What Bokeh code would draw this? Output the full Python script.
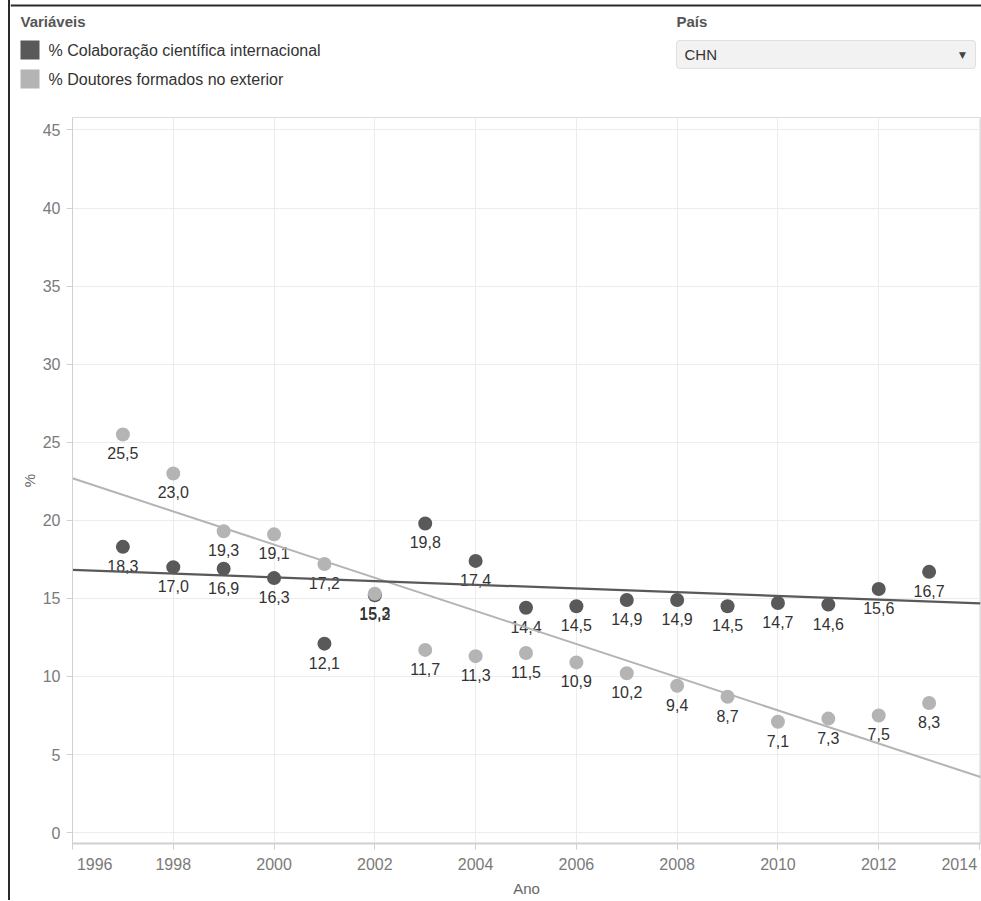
import numpy as np
from bokeh.plotting import figure
from bokeh.layouts import column
from bokeh.models import ColumnDataSource, BoxAnnotation, FixedTicker, Range1d
from bokeh.embed import file_html
from bokeh.resources import INLINE
from bokeh.core.properties import value

# ---------------- data ----------------
years = [1997, 1998, 1999, 2000, 2001, 2002, 2003, 2004, 2005,
         2006, 2007, 2008, 2009, 2010, 2011, 2012, 2013]
colab = [18.3, 17.0, 16.9, 16.3, 12.1, 15.2, 19.8, 17.4, 14.4,
         14.5, 14.9, 14.9, 14.5, 14.7, 14.6, 15.6, 16.7]
doutores = [25.5, 23.0, 19.3, 19.1, 17.2, 15.3, 11.7, 11.3, 11.5,
            10.9, 10.2, 9.4, 8.7, 7.1, 7.3, 7.5, 8.3]
x_ticks = [1996, 1998, 2000, 2002, 2004, 2006, 2008, 2010, 2012, 2014]
y_ticks = [0, 5, 10, 15, 20, 25, 30, 35, 40, 45]
series_names = ["% Colaboração científica internacional",
                "% Doutores formados no exterior"]
legend_title = "Variáveis"
filter_title = "País"
filter_value = "CHN"
x_label = "Ano"
y_label = "%"

FONT = "Liberation Sans"
DARK = "#595959"
LIGHT = "#b4b4b4"
LABEL_C = "#333333"
NB = "\u00a0"

OFF = 10          # page x of the figures' left edge
W = 971
HEAD_H = 112
MAIN_H = 788

# ---------------- header (legend + filter) ----------------
hdr = figure(width=W, height=HEAD_H, output_backend="svg", toolbar_location=None,
             x_range=Range1d(OFF, OFF + W), y_range=Range1d(HEAD_H, 0),
             min_border=0, x_axis_type=None, y_axis_type=None)
hdr.frame_align = False
hdr.outline_line_color = None
hdr.grid.visible = False
hdr.background_fill_color = "white"
hdr.border_fill_color = "white"

# scanned-page top border
hdr.quad(left=[OFF], right=[OFF + W], top=[4], bottom=[6], fill_color="#2a2a2a", line_color=None)

hdr.text([20], [21], text=[legend_title], text_baseline="middle", text_font=value(FONT),
         text_font_size="15px", text_font_style="bold", text_color="#555555")
sw_top = [40, 69]
hdr.quad(left=[20, 20], right=[39, 39], top=sw_top, bottom=[t + 19 for t in sw_top],
         fill_color=[DARK, LIGHT], line_color=None)
hdr.text([48, 48], [t + 9.5 for t in sw_top], text=series_names, text_baseline="middle",
         text_font=value(FONT), text_font_size="16px", text_color="#333333")

hdr.text([676], [21], text=[filter_title], text_baseline="middle", text_font=value(FONT),
         text_font_size="15px", text_font_style="bold", text_color="#555555")
hdr.add_layout(BoxAnnotation(left=676, right=975, top=40, bottom=68, level="underlay",
                             fill_color="#f2f2f2", fill_alpha=1, line_color="#a8a8a8",
                             line_width=1, border_radius=3))
hdr.text([684], [54], text=[filter_value], text_baseline="middle", text_font=value(FONT),
         text_font_size="15px", text_color="#333333")
hdr.text([962], [54], text=["▼"], text_align="center", text_baseline="middle",
         text_font=value("DejaVu Sans"), text_font_size="9px", text_color="#444444")

# ---------------- main chart ----------------
x0, x1 = 1996, 2014.02
p = figure(width=W, height=MAIN_H, output_backend="svg", toolbar_location=None,
           x_range=Range1d(x0, x1), y_range=Range1d(-0.7, 45.8),
           min_border_left=72 - OFF, min_border_right=1, min_border_top=117 - HEAD_H,
           min_border_bottom=MAIN_H - (843 - HEAD_H))
p.frame_align = False
p.background_fill_color = "white"
p.border_fill_color = "white"
p.outline_line_color = "#dcdcdc"
p.outline_line_width = 1

p.xaxis.ticker = FixedTicker(ticks=x_ticks)
p.yaxis.ticker = FixedTicker(ticks=y_ticks)
p.xaxis.major_label_overrides = {x_ticks[0]: NB * 10 + str(x_ticks[0]),
                                 x_ticks[-1]: str(x_ticks[-1]) + NB}
for ax in (p.xaxis[0], p.yaxis[0]):
    ax.axis_line_color = "#d0d0d0"
    ax.major_tick_line_color = "#d0d0d0"
    ax.major_tick_out = 6
    ax.major_tick_in = 0
    ax.minor_tick_line_color = None
    ax.major_label_text_font = FONT
    ax.major_label_text_font_size = "16px"
    ax.major_label_text_color = "#7a7a7a"
    ax.major_label_standoff = 6
    ax.axis_label_text_font = FONT
    ax.axis_label_text_font_size = "15px"
    ax.axis_label_text_font_style = "normal"
    ax.axis_label_text_color = "#666666"
p.xaxis.axis_line_width = 2
p.xaxis.axis_label = x_label
p.xaxis.axis_label_standoff = 4
p.yaxis.axis_label = y_label
p.yaxis.axis_label_standoff = 2
p.xgrid.grid_line_color = "#ececec"
p.ygrid.grid_line_color = "#ececec"

fmt = lambda v: f"{v:.1f}".replace(".", ",")
src = ColumnDataSource(dict(year=years, colab=colab, dout=doutores,
                            colab_lbl=[fmt(v) for v in colab],
                            dout_lbl=[fmt(v) for v in doutores]))

# trend lines (least squares fit of each series)
xs = np.array([x0, x1])
cc = np.polyfit(years, colab, 1)
cd = np.polyfit(years, doutores, 1)

p.scatter("year", "colab", source=src, size=14, fill_color=DARK, line_color=None)
p.scatter("year", "dout", source=src, size=14, fill_color=LIGHT, line_color=None)
for lbl, ycol in (("colab_lbl", "colab"), ("dout_lbl", "dout")):
    p.text("year", ycol, text=lbl, source=src, text_align="center", text_baseline="top",
           y_offset=13, text_font=value(FONT), text_font_size="16px", text_color=LABEL_C)

p.line(xs, np.polyval(cd, xs), line_color=LIGHT, line_width=2)
p.line(xs, np.polyval(cc, xs), line_color=DARK, line_width=2.2)

layout = column(hdr, p, spacing=0,
                styles={"margin-left": "8px", "border-left": "2px solid #2a2a2a"})

open("out.html", "w").write(file_html(layout, INLINE))
